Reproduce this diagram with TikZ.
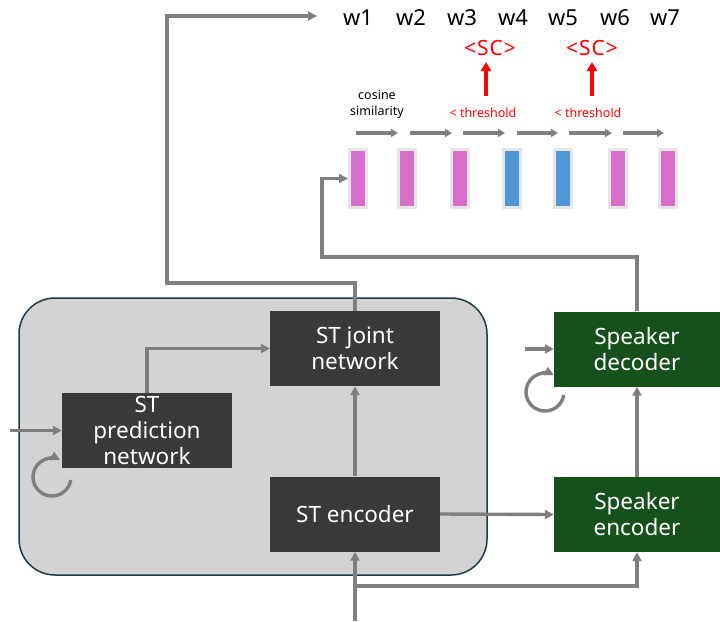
\documentclass[tikz,border=0pt]{standalone}
\usepackage{fontspec}
\setmainfont{Noto Sans}
\usetikzlibrary{arrows.meta}
\definecolor{boxdark}{HTML}{3A3A3A}
\definecolor{boxgreen}{HTML}{16501D}
\definecolor{panelgray}{HTML}{D3D3D3}
\definecolor{panelframe}{HTML}{1F3A4A}
\definecolor{conngray}{HTML}{7F7F7F}
\definecolor{embmag}{HTML}{D76EC9}
\definecolor{embblue}{HTML}{4F96D7}
\definecolor{embframe}{HTML}{E6E6E6}
\definecolor{sred}{HTML}{FF0000}
\begin{document}
\begin{tikzpicture}[x=1pt,y=-1pt,
  stbox/.style={fill=boxdark, text=white, minimum width=170pt, minimum height=75pt, inner sep=0pt, align=center, font=\fontsize{22.5}{26}\selectfont},
  spkbox/.style={stbox, fill=boxgreen},
  conn/.style={draw=conngray, line width=3.4pt, -{Triangle[length=9pt,width=9pt]}},
  sarrow/.style={draw=conngray, line width=3.4pt, -{Triangle[length=7pt,width=8pt]}},
  redarrow/.style={draw=sred, line width=3.6pt, -{Triangle[length=9pt,width=10pt]}},
  emb/.style={draw=embframe, line width=3pt, minimum width=17pt, minimum height=58pt, inner sep=0pt},
  word/.style={font=\fontsize{22}{24}\selectfont, inner sep=0pt},
  sctext/.style={font=\fontsize{21}{22}\selectfont\addfontfeature{LetterSpace=5}, text=sred, inner sep=0pt},
  small/.style={font=\fontsize{12.5}{16}\selectfont, inner sep=0pt, align=center},
]
\useasboundingbox (0,0) rectangle (720,621);

% panel
\node[draw=panelframe, line width=1.5pt, fill=panelgray, rounded corners=36pt, minimum width=468pt, minimum height=277pt, inner sep=0pt] (panel) at (253,436.5) {};

% boxes
\node[stbox] (joint) at (355,348.5) {ST joint\\network};
\node[stbox] (pred) at (147,430.5) {ST\\prediction\\network};
\node[stbox] (enc) at (355,514) {ST encoder};
\node[spkbox, minimum width=166pt] (dec) at (637,349) {Speaker\\decoder};
\node[spkbox, minimum width=166pt] (spkenc) at (637,514.5) {Speaker\\encoder};

% words
\node[word] (w1) at (358,18) {w1};
\node[word] (w2) at (411,18) {w2};
\node[word] (w3) at (462,18) {w3};
\node[word] (w4) at (513,18) {w4};
\node[word] (w5) at (563,18) {w5};
\node[word] (w6) at (615,18) {w6};
\node[word] (w7) at (665,18) {w7};
\node[sctext] (sc1) at (490,48) {<SC>};
\node[sctext] (sc2) at (592,48) {<SC>};

\node[small] (cos) at (377,104) {cosine\\similarity};
\node[small, text=sred] (th1) at (483,113) {< threshold};
\node[small, text=sred] (th2) at (588,113) {< threshold};

% embeddings
\node[emb, fill=embmag] (e1) at (358,178.5) {};
\node[emb, fill=embmag] (e2) at (407,178.5) {};
\node[emb, fill=embmag] (e3) at (460,178.5) {};
\node[emb, fill=embblue] (e4) at (512,178.5) {};
\node[emb, fill=embblue] (e5) at (563,178.5) {};
\node[emb, fill=embmag] (e6) at (618,178.5) {};
\node[emb, fill=embmag] (e7) at (668,178.5) {};

% similarity arrows
\draw[sarrow] (356,133) -- (398,133);
\draw[sarrow] (410,133) -- (452,133);
\draw[sarrow] (463,133) -- (505,133);
\draw[sarrow] (517,133) -- (558,133);
\draw[sarrow] (569,133) -- (612,133);
\draw[sarrow] (623,133) -- (664,133);

% red arrows
\coordinate (ra1) at (486,96);
\coordinate (ra2) at (592,96);
\draw[redarrow] (ra1) -- (486,62);
\draw[redarrow] (ra2) -- (592,62);

% coordinates
\coordinate (wout) at (317,16);
\coordinate (j2) at (167,283);
\coordinate (b1) at (322,257);
\coordinate (pin) at (10,430.5);
\coordinate (dpin) at (525,349);
\coordinate (bin) at (355,621);
\coordinate (br) at (355,586);
\coordinate (lc1) at (52,477);
\coordinate (lc2) at (545,392);

% connectors
\draw[conn] (joint.north) |- (j2) |- (wout);
\draw[conn] (dec.north) |- (b1) |- (e1.west);
\draw[conn] (pred.north) |- (joint.west);
\draw[conn] (enc.north) -- (joint.south);
\draw[conn] (bin) -- (enc.south);
\draw[conn] (br) -| (spkenc.south);
\draw[conn] (enc.east) -- (spkenc.west);
\draw[conn] (spkenc.north) -- (dec.south);
\draw[conn] (pin) -- (pred.west);
\draw[conn] (dpin) -- (dec.west);

% loops
\draw[conn] ([shift={(-9:19pt)}]lc1) arc[start angle=-9, end angle=-295, radius=19pt];
\draw[conn] ([shift={(-9:19pt)}]lc2) arc[start angle=-9, end angle=-297, radius=19pt];
\end{tikzpicture}
\end{document}
